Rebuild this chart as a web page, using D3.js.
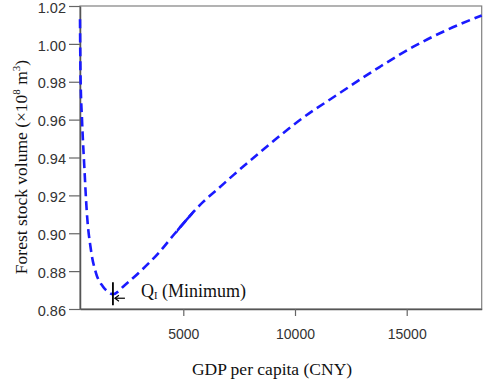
<!DOCTYPE html>
<html>
<head>
<meta charset="utf-8">
<script src="https://d3js.org/d3.v7.min.js"></script>
<style>
  body { margin: 0; background: white; }
  svg { display: block; }
</style>
</head>
<body>
<div id="chart"></div>
<script>
let w = 484, h = 384;

// data
let gdp = [376, 400, 466, 570, 676, 868, 1092, 1392, 1640, 1850, 2390, 3140, 3880, 4630, 5900, 6500, 7240, 8730, 10220, 11870, 13800, 15300, 16790, 18357];
let forest = [1.013, 0.983, 0.960, 0.935, 0.912, 0.891, 0.879, 0.872, 0.869, 0.8678, 0.8727, 0.8806, 0.8894, 0.900, 0.9167, 0.9229, 0.9307, 0.9457, 0.9598, 0.9730, 0.9879, 0.9985, 1.0073, 1.0150];
let yTicks = [0.86, 0.88, 0.90, 0.92, 0.94, 0.96, 0.98, 1.00, 1.02];
let xTicks = [5000, 10000, 15000];
let minGdp = 1850, minForest = 0.8678;
let solidRange = [4700, 5450];

let data = gdp.map((g, i) => ({g: g, v: forest[i]}));

let padLeft = 80, padRight = 481.7, padTop = 6, padBottom = 309;

let svg = d3.select("#chart")
  .append("svg")
  .attr("width", w)
  .attr("height", h)
  .style("background-color", "white");

let xScale = d3.scaleLinear().domain([376, 18357]).range([padLeft, padRight]);
let yScale = d3.scaleLinear().domain([0.86, 1.02]).range([padBottom, padTop]);

// box (top/right)
svg.append("rect")
  .attr("x", padLeft).attr("y", padTop)
  .attr("width", padRight - padLeft).attr("height", padBottom - padTop)
  .attr("fill", "none")
  .attr("stroke", "#808080")
  .attr("stroke-width", 1.2);

// x axis
let xAxis = d3.axisBottom(xScale).tickValues(xTicks).tickFormat(d3.format("d")).tickSize(7).tickPadding(13).tickSizeOuter(0);
let xAxisGroup = svg.append("g").attr("class", "xaxis")
  .attr("transform", "translate(0," + padBottom + ")")
  .call(xAxis);

// y axis
let yAxis = d3.axisLeft(yScale).tickValues(yTicks).tickFormat(d3.format(".2f")).tickSize(11).tickPadding(3).tickSizeOuter(0);
let yAxisGroup = svg.append("g").attr("class", "yaxis")
  .attr("transform", "translate(" + padLeft + ",0)")
  .call(yAxis);

svg.selectAll(".xaxis path, .yaxis path").attr("stroke", "#555").attr("stroke-width", 1.5);
svg.selectAll(".xaxis line, .yaxis line").attr("stroke", "#666").attr("stroke-width", 1.2);
svg.selectAll(".xaxis text").attr("font-family", "Liberation Sans, Arial, sans-serif").attr("font-size", 14).attr("fill", "#333");
svg.selectAll(".yaxis text").attr("font-family", "Liberation Sans, Arial, sans-serif").attr("font-size", 14.5).attr("fill", "#333")
  .attr("y", 1.5);

// curve
let line = d3.line()
  .x(d => xScale(d.g))
  .y(d => yScale(d.v))
  .curve(d3.curveMonotoneX);

svg.append("path")
  .datum(data)
  .attr("d", line)
  .attr("fill", "none")
  .attr("stroke", "#1a1aff")
  .attr("stroke-width", 2.6)
  .attr("stroke-dasharray", "9,5");

// solid part
svg.append("clipPath").attr("id", "solidClip")
  .append("rect")
  .attr("x", xScale(solidRange[0])).attr("y", 0)
  .attr("width", xScale(solidRange[1]) - xScale(solidRange[0])).attr("height", h);

svg.append("path")
  .datum(data)
  .attr("d", line)
  .attr("clip-path", "url(#solidClip)")
  .attr("fill", "none")
  .attr("stroke", "#1a1aff")
  .attr("stroke-width", 2.6);

// minimum marker
let mx = xScale(minGdp), my = yScale(minForest);
svg.append("line")
  .attr("x1", mx).attr("x2", mx)
  .attr("y1", my - 12).attr("y2", my + 11)
  .attr("stroke", "black").attr("stroke-width", 1.8);

svg.append("line")
  .attr("x1", mx + 2).attr("x2", mx + 12)
  .attr("y1", my + 4).attr("y2", my + 4)
  .attr("stroke", "black").attr("stroke-width", 1.2);
svg.append("path")
  .attr("d", "M" + (mx + 6) + "," + (my + 1) + " L" + (mx + 2) + "," + (my + 4) + " L" + (mx + 6) + "," + (my + 7))
  .attr("fill", "none")
  .attr("stroke", "black").attr("stroke-width", 1.2);

let note = svg.append("text")
  .attr("x", mx + 28).attr("y", my + 2.5)
  .attr("font-family", "Liberation Serif, Times New Roman, serif")
  .attr("font-size", 18)
  .attr("fill", "#111");
note.append("tspan").text("Q");
note.append("tspan").attr("font-size", 10.5).attr("dy", 2).text("I");
note.append("tspan").attr("dy", -2).text(" (Minimum)");

// axis titles
svg.append("text")
  .attr("x", 272).attr("y", 375)
  .attr("text-anchor", "middle")
  .attr("font-family", "Liberation Serif, Times New Roman, serif")
  .attr("font-size", 17.5)
  .attr("fill", "#111")
  .text("GDP per capita (CNY)");

let yTitle = svg.append("text")
  .attr("transform", "translate(27,167) rotate(-90)")
  .attr("text-anchor", "middle")
  .attr("font-family", "Liberation Serif, Times New Roman, serif")
  .attr("font-size", 17.5)
  .attr("fill", "#111");
yTitle.append("tspan").text("Forest stock volume (\u00d710");
yTitle.append("tspan").attr("font-size", 11).attr("dy", -7).text("8");
yTitle.append("tspan").attr("dy", 7).text(" m");
yTitle.append("tspan").attr("font-size", 11).attr("dy", -7).text("3");
yTitle.append("tspan").attr("dy", 7).text(")");
</script>
</body>
</html>
